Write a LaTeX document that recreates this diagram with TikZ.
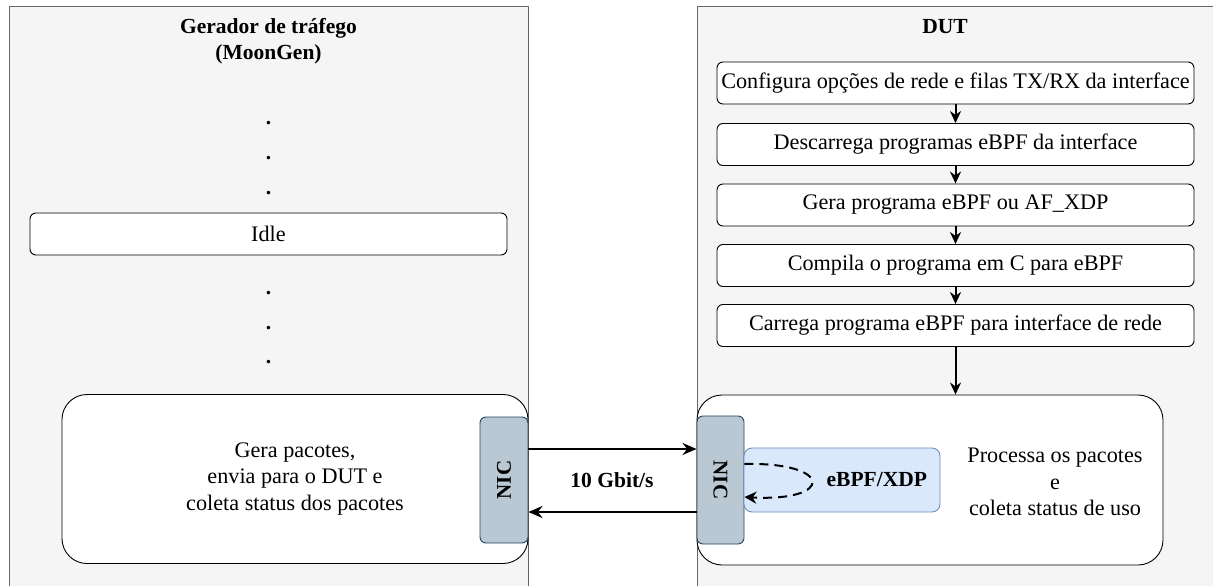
\documentclass[tikz,border=0pt]{standalone}
\usepackage{fontspec}
\setmainfont{Liberation Serif}
\usepackage{graphicx}
\usetikzlibrary{arrows.meta}
\definecolor{painel}{HTML}{F5F5F5}
\definecolor{bordapainel}{HTML}{666666}
\definecolor{nicfill}{HTML}{BAC8D3}
\definecolor{nicborda}{HTML}{23445D}
\definecolor{xdpfill}{HTML}{DAE8FC}
\definecolor{xdpborda}{HTML}{6C8EBF}
\begin{document}
\begin{tikzpicture}[x=1pt,y=-1pt,line join=round,
	font=\fontsize{22.2}{26.8}\selectfont,
	etapa/.style={draw=black,line width=0.9pt,fill=white,rounded corners=6pt,minimum width=477pt,minimum height=42pt,inner sep=0pt},
	caixa/.style={draw=black,line width=0.9pt,fill=white,rounded corners=25pt,inner sep=0pt},
	nic/.style={draw=nicborda,line width=0.9pt,fill=nicfill,rounded corners=6pt,inner sep=0pt,font=\fontsize{21}{25}\selectfont\bfseries},
	titulo/.style={align=center,font=\fontsize{21.5}{26}\selectfont\bfseries},
	seta/.style={line width=2pt,-{Stealth[length=12pt,width=11pt]}},
	conexao/.style={line width=2.5pt,-{Stealth[length=14pt,width=12pt]}}]
	\useasboundingbox (0,0) rectangle (1213,586);
	% paineis
	\fill[painel] (9,7) rectangle (528,592);
	\draw[bordapainel,line width=1pt] (9,592)--(9,7)--(528,7)--(528,592);
	\fill[painel] (697,7) rectangle (1220,592);
	\draw[bordapainel,line width=1pt] (697,592)--(697,7)--(1220,7);
	\node[titulo] (tgen) at (268.5,41) {Gerador de tráfego\\(MoonGen)};
	\node[titulo] (tdut) at (945,27) {DUT};
	% gerador
	\node[etapa] (idle) at (268.5,234) {Idle};
	\foreach \y in {121,156,191,291,326,360}
		\node[anchor=base,inner sep=0pt,font=\fontsize{21.5}{26}\selectfont\bfseries] (ponto\y) at (268.5,\y+3) {.};
	\node[caixa,minimum width=466pt,minimum height=169pt,align=center] (gera) at (295,479) {Gera pacotes,\\envia para o DUT e\\coleta status dos pacotes};
	\node[nic,minimum width=48pt,minimum height=126pt] (nicGen) at (504,480) {\rotatebox{90}{NIC}};
	% DUT
	\node[etapa] (passo1) at (955.5,83) {Configura opções de rede e filas TX/RX da interface};
	\node[etapa] (passo2) at (955.5,144.5) {Descarrega programas eBPF da interface};
	\node[etapa] (passo3) at (955.5,205) {Gera programa eBPF ou AF\_XDP};
	\node[etapa] (passo4) at (955.5,265.5) {Compila o programa em C para eBPF};
	\node[etapa] (passo5) at (955.5,325.5) {Carrega programa eBPF para interface de rede};
	\foreach \i/\j in {1/2,2/3,3/4,4/5}
		\draw[seta] (passo\i) -- (passo\j);
	\node[caixa,minimum width=466pt,minimum height=170pt] (proc) at (930,480) {};
	\draw[seta] (passo5.south) -- (passo5.south |- proc.north);
	\node[align=center] (txtproc) at (1055,482) {Processa os pacotes\\e\\coleta status de uso};
	\node[nic,minimum width=47pt,minimum height=128pt] (nicDut) at (720.5,480) {\rotatebox{-90}{NIC}};
	\node[draw=xdpborda,line width=0.9pt,fill=xdpfill,rounded corners=8pt,minimum height=64pt,text width=170pt,inner xsep=13pt,align=right,font=\fontsize{21.5}{26}\selectfont\bfseries] (xdp) at (842,480) {eBPF/XDP};
	\draw[line width=2pt,dash pattern=on 9pt off 6pt,-{Stealth[length=12pt,width=12pt]}] ([yshift=16pt]nicDut.east) .. controls (834,462) and (834,502) .. ([yshift=-17pt]nicDut.east);
	% enlace
	\draw[conexao] ([yshift=31pt]nicGen.east) -- ([yshift=31pt]nicDut.west);
	\draw[conexao] ([yshift=-32pt]nicDut.west) -- ([yshift=-32pt]nicGen.east);
	\node[font=\fontsize{21.5}{26}\selectfont\bfseries] (taxa) at (612,480) {10 Gbit/s};
\end{tikzpicture}
\end{document}
